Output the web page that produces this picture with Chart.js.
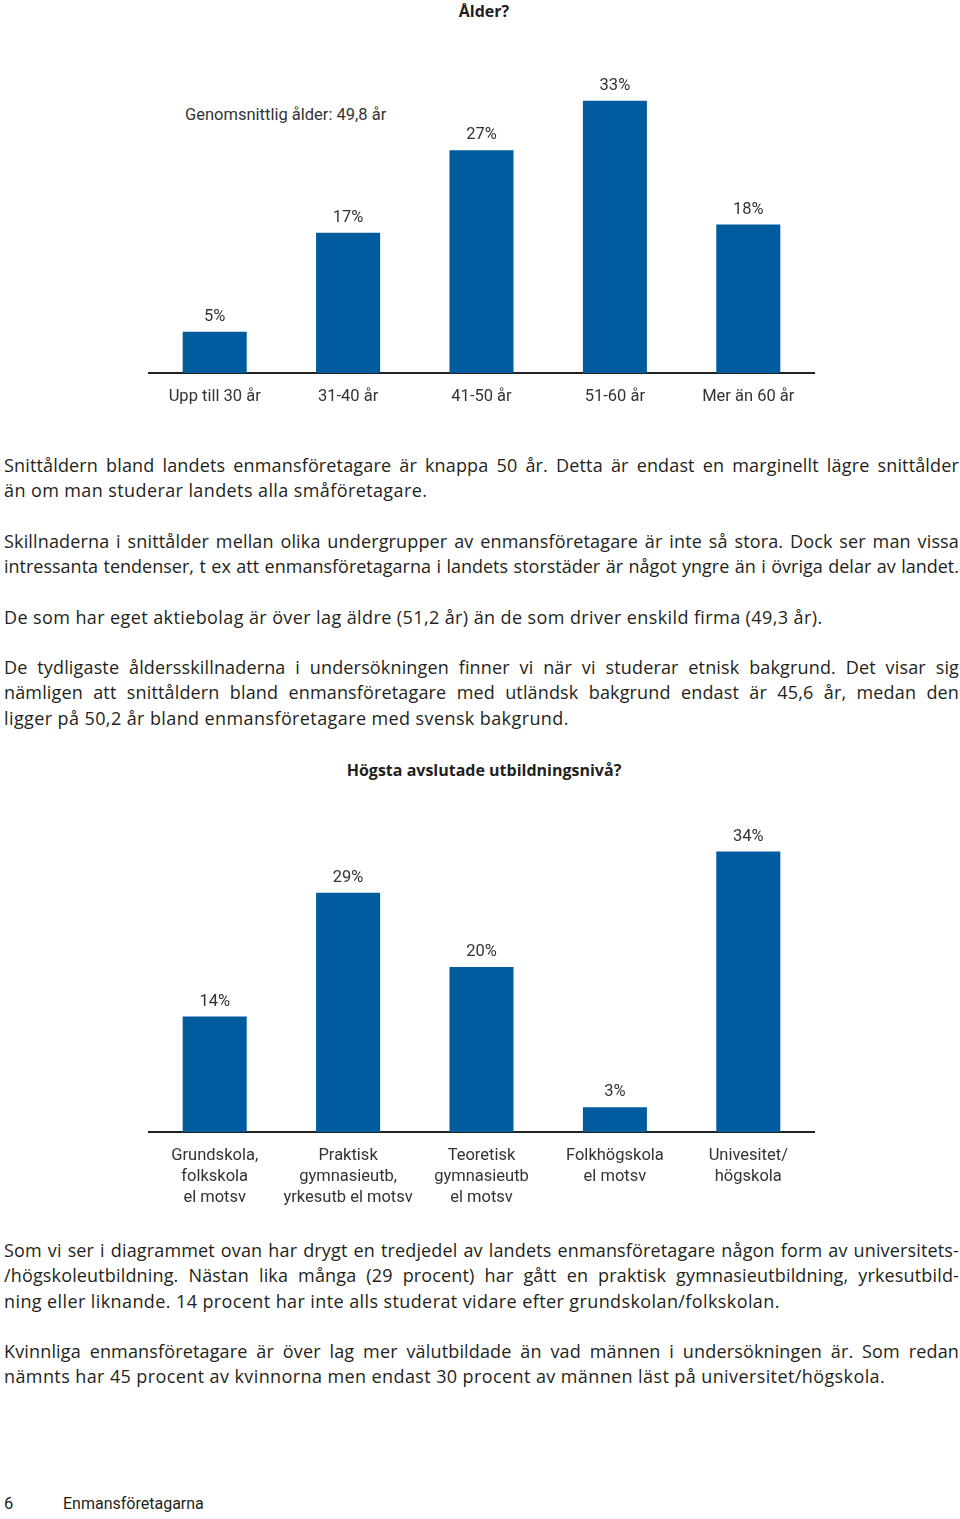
<!DOCTYPE html>
<html lang="sv">
<head>
<meta charset="utf-8">
<script src="https://cdn.jsdelivr.net/npm/chart.js@4.4.1/dist/chart.umd.min.js"></script>
<style>
  body { margin: 0; width: 960px; height: 1519px; position: relative; background: #fff; font-family: Roboto, "Noto Sans", sans-serif; color: #231f20; overflow: hidden; }
  .abs { position: absolute; }
  .title { left: 0; width: 968px; text-align: center; font-weight: bold; font-size: 16px; font-family: "Open Sans", Roboto, sans-serif; }
  .para { left: 4px; width: 955px; font-size: 18px; line-height: 25.3px; font-family: "Open Sans", Roboto, sans-serif; }
  .para div { white-space: nowrap; letter-spacing: 0.4px; }
  .para div.j { text-align: justify; text-align-last: justify; letter-spacing: 0.15px; }
  .para div.tight { letter-spacing: 0; }
  canvas { position: absolute; }
</style>
</head>
<body>
<div class="abs title" style="top:0px;">Ålder?</div>
<div class="abs" style="left:185px; top:105px; font-size:16.5px; color:#333;">Genomsnittlig ålder: 49,8 år</div>
<canvas id="ageChart" width="667" height="380" style="left:148px; top:43px;"></canvas>

<div class="abs para" style="top:453px;">
  <div class="j">Snittåldern bland landets enmansföretagare är knappa 50 år. Detta är endast en marginellt lägre snittålder</div>
  <div>än om man studerar landets alla småföretagare.</div>
</div>
<div class="abs para" style="top:529px;">
  <div class="j">Skillnaderna i snittålder mellan olika undergrupper av enmansföretagare är inte så stora. Dock ser man vissa</div>
  <div class="j tight">intressanta tendenser, t ex att enmansföretagarna i landets storstäder är något yngre än i övriga delar av landet.</div>
</div>
<div class="abs para" style="top:605px;">
  <div>De som har eget aktiebolag är över lag äldre (51,2 år) än de som driver enskild firma (49,3 år).</div>
</div>
<div class="abs para" style="top:655px;">
  <div class="j">De tydligaste åldersskillnaderna i undersökningen finner vi när vi studerar etnisk bakgrund. Det visar sig</div>
  <div class="j">nämligen att snittåldern bland enmansföretagare med utländsk bakgrund endast är 45,6 år, medan den</div>
  <div>ligger på 50,2 år bland enmansföretagare med svensk bakgrund.</div>
</div>

<div class="abs title" style="top:759px;">Högsta avslutade utbildningsnivå?</div>
<canvas id="eduChart" width="667" height="410" style="left:148px; top:802px;"></canvas>

<div class="abs para" style="top:1238px;">
  <div class="j">Som vi ser i diagrammet ovan har drygt en tredjedel av landets enmansföretagare någon form av universitets-</div>
  <div class="j">/högskoleutbildning. Nästan lika många (29 procent) har gått en praktisk gymnasieutbildning, yrkesutbild-</div>
  <div>ning eller liknande. 14 procent har inte alls studerat vidare efter grundskolan/folkskolan.</div>
</div>
<div class="abs para" style="top:1339px;">
  <div class="j">Kvinnliga enmansföretagare är över lag mer välutbildade än vad männen i undersökningen är. Som redan</div>
  <div>nämnts har 45 procent av kvinnorna men endast 30 procent av männen läst på universitet/högskola.</div>
</div>

<div class="abs" style="left:4px; top:1494px; font-size:16.5px;">6</div>
<div class="abs" style="left:63px; top:1494px; font-size:16px;">Enmansföretagarna</div>

<script>
const ageLabels = ['Upp till 30 år', '31-40 år', '41-50 år', '51-60 år', 'Mer än 60 år'];
const ageValues = [5, 17, 27, 33, 18];

const eduLabels = [
    ['Grundskola,', 'folkskola', 'el motsv'],
    ['Praktisk', 'gymnasieutb,', 'yrkesutb el motsv'],
    ['Teoretisk', 'gymnasieutb', 'el motsv'],
    ['Folkhögskola', 'el motsv'],
    ['Univesitet/', 'högskola']
];
const eduValues = [14, 29, 20, 3, 34];

const barColor = '#005b9f';

// etiketter ovanför staplarna
const valueLabels = {
    id: 'valueLabels',
    afterDatasetsDraw(chart) {
        const ctx = chart.ctx;
        const meta = chart.getDatasetMeta(0);
        ctx.save();
        ctx.font = '16.5px Roboto, sans-serif';
        ctx.fillStyle = '#333';
        ctx.textAlign = 'center';
        ctx.textBaseline = 'middle';
        meta.data.forEach((bar, i) => {
            ctx.fillText(chart.data.datasets[0].data[i] + '%', bar.x, bar.y - 15);
        });
        ctx.restore();
    }
};

function makeChart(id, labels, values, axisHeight) {
    return new Chart(document.getElementById(id), {
        type: 'bar',
        data: {
            labels: labels,
            datasets: [{
                data: values,
                backgroundColor: barColor,
                categoryPercentage: 1,
                barPercentage: 0.48
            }]
        },
        options: {
            responsive: false,
            animation: false,
            devicePixelRatio: 1,
            layout: { padding: 0 },
            plugins: {
                legend: { display: false },
                tooltip: { enabled: false }
            },
            scales: {
                x: {
                    grid: { display: false, drawTicks: false },
                    border: { display: true, color: '#222', width: 2 },
                    ticks: {
                        color: '#333',
                        font: { family: 'Roboto, sans-serif', size: 16.5, lineHeight: 1.25 },
                        padding: 14,
                        maxRotation: 0,
                        autoSkip: false
                    },
                    afterFit: s => { s.height = axisHeight; }
                },
                y: {
                    display: false,
                    min: 0,
                    max: 40
                }
            }
        },
        plugins: [valueLabels]
    });
}

makeChart('ageChart', ageLabels, ageValues, 50);
makeChart('eduChart', eduLabels, eduValues, 80);
</script>
</body>
</html>
